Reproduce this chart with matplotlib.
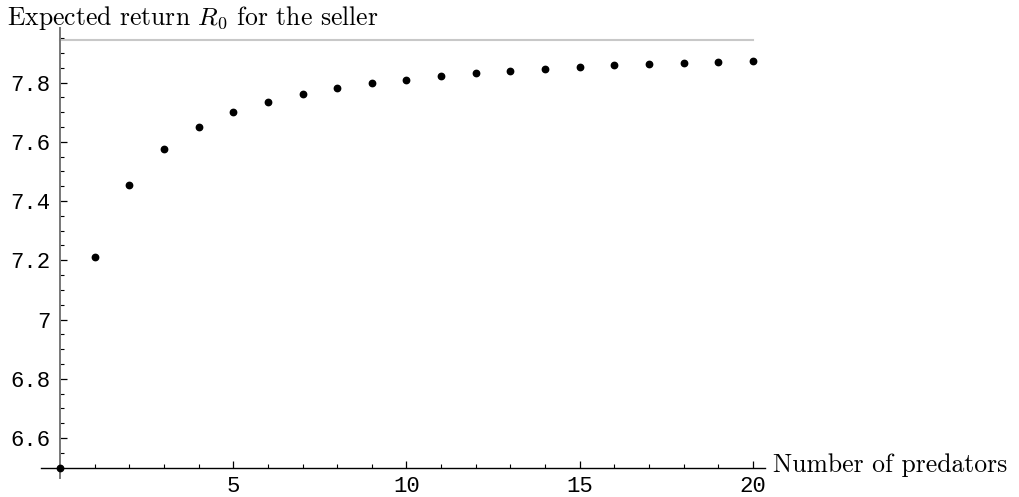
import matplotlib
matplotlib.use("Agg")
import matplotlib.pyplot as plt
from matplotlib.ticker import MultipleLocator

plt.rcParams['mathtext.fontset'] = 'cm'

# Data
n_predators = list(range(0, 21))
expected_return = [6.50, 7.212, 7.455, 7.577, 7.650, 7.700, 7.734, 7.761, 7.781,
                   7.798, 7.810, 7.823, 7.832, 7.840, 7.846, 7.853, 7.859, 7.863,
                   7.868, 7.871, 7.874]
limit_value = 7.944
x_ticks = [5, 10, 15, 20]
y_ticks = [6.6, 6.8, 7.0, 7.2, 7.4, 7.6, 7.8]
y_tick_labels = ["6.6", "6.8", "7", "7.2", "7.4", "7.6", "7.8"]

W, H = 1019, 497
fig = plt.figure(figsize=(W / 100, H / 100), dpi=100)

x0, x1 = -0.55, 20.35
y0, y1 = 6.465, 7.985
px_left, px_right = 40.9, 765.1
px_top, px_bottom = 27.9, 477.9
ax = fig.add_axes([px_left / W, 1 - px_bottom / H,
                   (px_right - px_left) / W, (px_bottom - px_top) / H])
ax.set_xlim(x0, x1)
ax.set_ylim(y0, y1)

for s in ['top', 'right']:
    ax.spines[s].set_visible(False)
ax.spines['left'].set_position(('data', 0))
ax.spines['bottom'].set_position(('data', 6.5))
ax.spines['left'].set_color('#777777')
ax.spines['left'].set_linewidth(1.4)
ax.spines['bottom'].set_color('black')
ax.spines['bottom'].set_linewidth(1.0)

ax.plot([0, 20], [limit_value, limit_value], color='#c8c8c8', lw=1.5, zorder=2)
ax.plot(n_predators, expected_return, 'o', color='black', markersize=4.6,
        zorder=3, clip_on=False)

mono = 'Liberation Mono'
ax.set_xticks(x_ticks)
ax.set_xticklabels([str(t) for t in x_ticks], fontfamily=mono, fontsize=16)
ax.xaxis.set_minor_locator(MultipleLocator(1))
ax.set_yticks(y_ticks)
ax.set_yticklabels(y_tick_labels, fontfamily=mono, fontsize=16)
ax.yaxis.set_minor_locator(MultipleLocator(0.05))

ax.tick_params(axis='both', which='major', direction='in', length=5, width=0.9,
               color='black')
ax.tick_params(axis='both', which='minor', direction='in', length=3, width=0.8,
               color='black')
ax.tick_params(axis='x', which='major', pad=6)
ax.tick_params(axis='y', which='major', pad=7)

fig.text(7 / W, 1 - 25 / H, r"Expected return $R_0$ for the seller",
         fontfamily='cmr10', fontsize=18.5, ha='left', va='baseline')
fig.text(773 / W, 1 - 472 / H, "Number of predators",
         fontfamily='cmr10', fontsize=18.5, ha='left', va='baseline')

fig.savefig("out.png", dpi=100)
